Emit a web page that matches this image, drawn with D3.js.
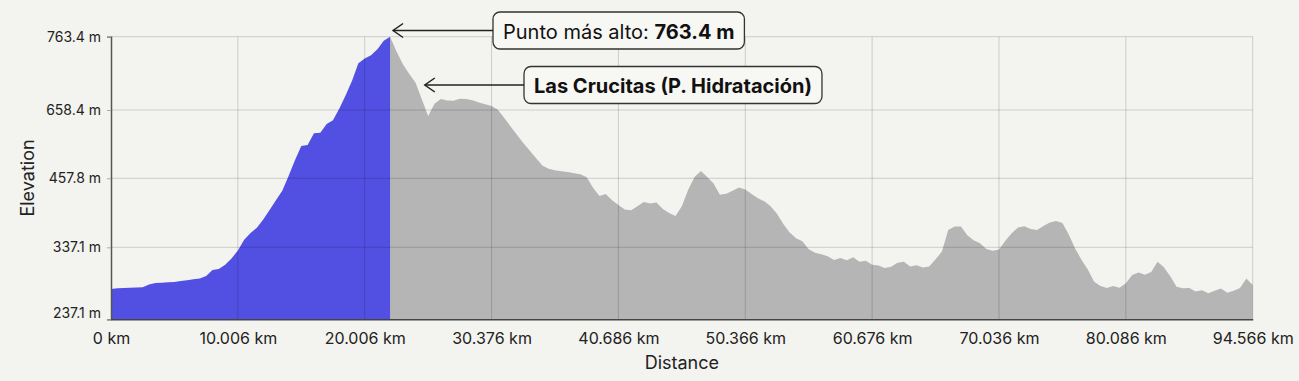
<!DOCTYPE html>
<html><head><meta charset="utf-8">
<script src="https://cdn.jsdelivr.net/npm/d3@7"></script>
<style>
html,body{margin:0;padding:0;background:#f3f3ef;}
svg{display:block;font-family:Inter,"Noto Sans",sans-serif;}
</style>
</head><body>
<svg id="chart" width="1299" height="381"></svg>
<script>
// ---- data (elevation in m, sampled at equal steps along the route) ----
const elevation = [
279.3,280.3,280.6,280.9,281.3,281.5,285.3,287.4,287.8,288.4,
289.0,290.2,291.4,292.7,293.8,297.1,305.7,307.0,312.8,321.5,
332.7,350.4,362.3,371.4,385.9,402.5,419.3,435.9,464.6,511.0,
553.0,555.9,590.3,591.4,617.6,628.1,660.5,679.6,700.2,725.3,
732.2,736.8,745.6,757.7,763.4,742.6,724.4,710.3,697.8,673.7,
640.8,667.3,674.2,671.9,671.7,674.4,674.2,672.3,669.3,666.7,
664.1,658.7,634.9,610.2,585.6,561.8,539.7,517.7,495.4,485.7,
481.6,478.7,476.0,472.8,469.8,460.7,441.2,427.0,430.3,419.3,
410.9,403.4,401.8,408.8,416.3,413.7,415.5,404.1,396.9,391.7,
409.0,437.9,461.3,478.9,461.3,448.5,428.9,430.9,436.1,441.7,
438.2,430.3,423.0,417.6,409.0,395.7,377.7,363.0,352.8,347.6,
334.5,329.6,327.5,324.7,319.5,322.4,319.2,323.2,317.2,318.4,
312.9,311.8,308.4,310.0,315.6,317.0,310.3,312.0,309.2,310.4,
320.4,331.1,367.4,373.5,373.7,358.3,349.5,344.1,334.7,332.4,
334.0,348.5,361.8,371.9,373.8,369.1,367.5,374.2,380.3,383.1,
379.8,359.7,335.3,319.9,306.4,289.3,283.2,280.6,283.4,281.0,
287.1,298.6,302.0,299.0,302.9,317.1,309.5,296.8,282.4,280.2,
280.6,275.7,277.5,273.4,276.7,279.9,274.0,276.7,280.6,293.6,
284.7
];
const distanceTickIndex = [0,20,40,60,80,100,120,140,160,180];
const distanceTickLabels = ["0 km","10.006 km","20.006 km","30.376 km","40.686 km",
                            "50.366 km","60.676 km","70.036 km","80.086 km","94.566 km"];
const elevationTicks = [237.1, 337.1, 457.8, 658.4, 763.4];
const completedIndex = 44;                 // end of the highlighted (done) part
const annotationIndex = [44, 49];
const annotationPrefix = ["Punto más alto: ", ""];
const annotationBold = [null, "Las Crucitas (P. Hidratación)"];

// ---- layout ----
const svg = d3.select("#chart");
const L = 111, R = 1252.7, T = 36.7, B = 319.3;
const yPos = [B, 247.3, 178.3, 110, T];

const x = d3.scaleLinear().domain([0, elevation.length - 1]).range([L, R]);
const y = d3.scaleLinear().domain(elevationTicks).range(yPos);
const fmt = d3.format(".1f");

// areas
const area = d3.area()
  .x(d => x(d.i)).y0(y(elevationTicks[0])).y1(d => y(d.v));
const pts = elevation.map((v, i) => ({i, v}));
svg.append("path").datum(pts.slice(completedIndex))
  .attr("d", area).attr("fill", "#b5b5b5");
svg.append("path").datum(pts.slice(0, completedIndex + 1))
  .attr("d", area).attr("fill", "#5150e2");

// grid
const grid = svg.append("g").attr("stroke", "rgba(0,0,0,0.16)").attr("stroke-width", 1);
grid.selectAll("line.h").data(elevationTicks.slice(1)).join("line")
  .attr("x1", L).attr("x2", R).attr("y1", d => y(d)).attr("y2", d => y(d));
grid.selectAll("line.v").data(distanceTickIndex.slice(1)).join("line")
  .attr("x1", d => x(d)).attr("x2", d => x(d)).attr("y1", T).attr("y2", B);

// y axis
const yAxis = d3.axisLeft(y).tickValues(elevationTicks)
  .tickFormat(d => fmt(d) + " m").tickSize(4).tickPadding(6);
const gy = svg.append("g").attr("transform", `translate(${L},0)`).call(yAxis);
gy.select(".domain").attr("stroke", "#555").attr("stroke-width", 1.5);
gy.selectAll(".tick line").attr("stroke", "#aaa");
gy.selectAll(".tick text").attr("font-size", 14).attr("fill", "#222")
  .attr("font-family", "Inter, sans-serif")
  .attr("dy", (d, i) => i === 0 ? "-0.15em" : "0.32em");

// x axis
const xAxis = d3.axisBottom(x).tickValues(distanceTickIndex)
  .tickFormat((d, i) => distanceTickLabels[i]).tickSize(0).tickPadding(13);
const gx = svg.append("g").attr("transform", `translate(0,${B})`).call(xAxis);
gx.select(".domain").attr("stroke", "#444").attr("stroke-width", 1.5);
gx.selectAll(".tick text").attr("font-size", 16).attr("fill", "#222")
  .attr("font-family", "Inter, sans-serif");

// axis titles
svg.append("text").text("Elevation")
  .attr("transform", `translate(27,${(T + B) / 2}) rotate(-90)`)
  .attr("text-anchor", "middle").attr("dominant-baseline", "central")
  .attr("font-size", 18).attr("fill", "#222");
svg.append("text").text("Distance")
  .attr("x", (L + R) / 2).attr("y", 362)
  .attr("text-anchor", "middle").attr("dominant-baseline", "central")
  .attr("font-size", 18).attr("fill", "#222");

// annotations
const boxLeft = [493, 524], boxMid = [30.5, 85], boxH = 37, pad = 10;
annotationIndex.forEach((idx, k) => {
  const g = svg.append("g");
  const t = g.append("text").attr("font-size", 20).attr("fill", "#111")
    .attr("dominant-baseline", "central").attr("y", boxMid[k] + 1);
  if (annotationPrefix[k]) t.append("tspan").text(annotationPrefix[k]);
  const bold = annotationBold[k] ?? (fmt(elevation[idx]) + " m");
  t.append("tspan").attr("font-weight", 700).text(bold);
  const w = t.node().getComputedTextLength();
  t.attr("x", boxLeft[k] + pad);
  g.insert("rect", "text")
    .attr("x", boxLeft[k]).attr("y", boxMid[k] - boxH / 2)
    .attr("width", w + pad * 2).attr("height", boxH).attr("rx", 7)
    .attr("fill", "#f7f7f4").attr("stroke", "#333").attr("stroke-width", 1.3);
  const tip = x(idx) + 3;
  g.append("line").attr("x1", boxLeft[k]).attr("x2", tip)
    .attr("y1", boxMid[k]).attr("y2", boxMid[k])
    .attr("stroke", "#222").attr("stroke-width", 1.5);
  g.append("path")
    .attr("d", `M${tip + 10},${boxMid[k] - 7} L${tip},${boxMid[k]} L${tip + 10},${boxMid[k] + 7}`)
    .attr("fill", "none").attr("stroke", "#222").attr("stroke-width", 1.5);
});
</script>
</body></html>
